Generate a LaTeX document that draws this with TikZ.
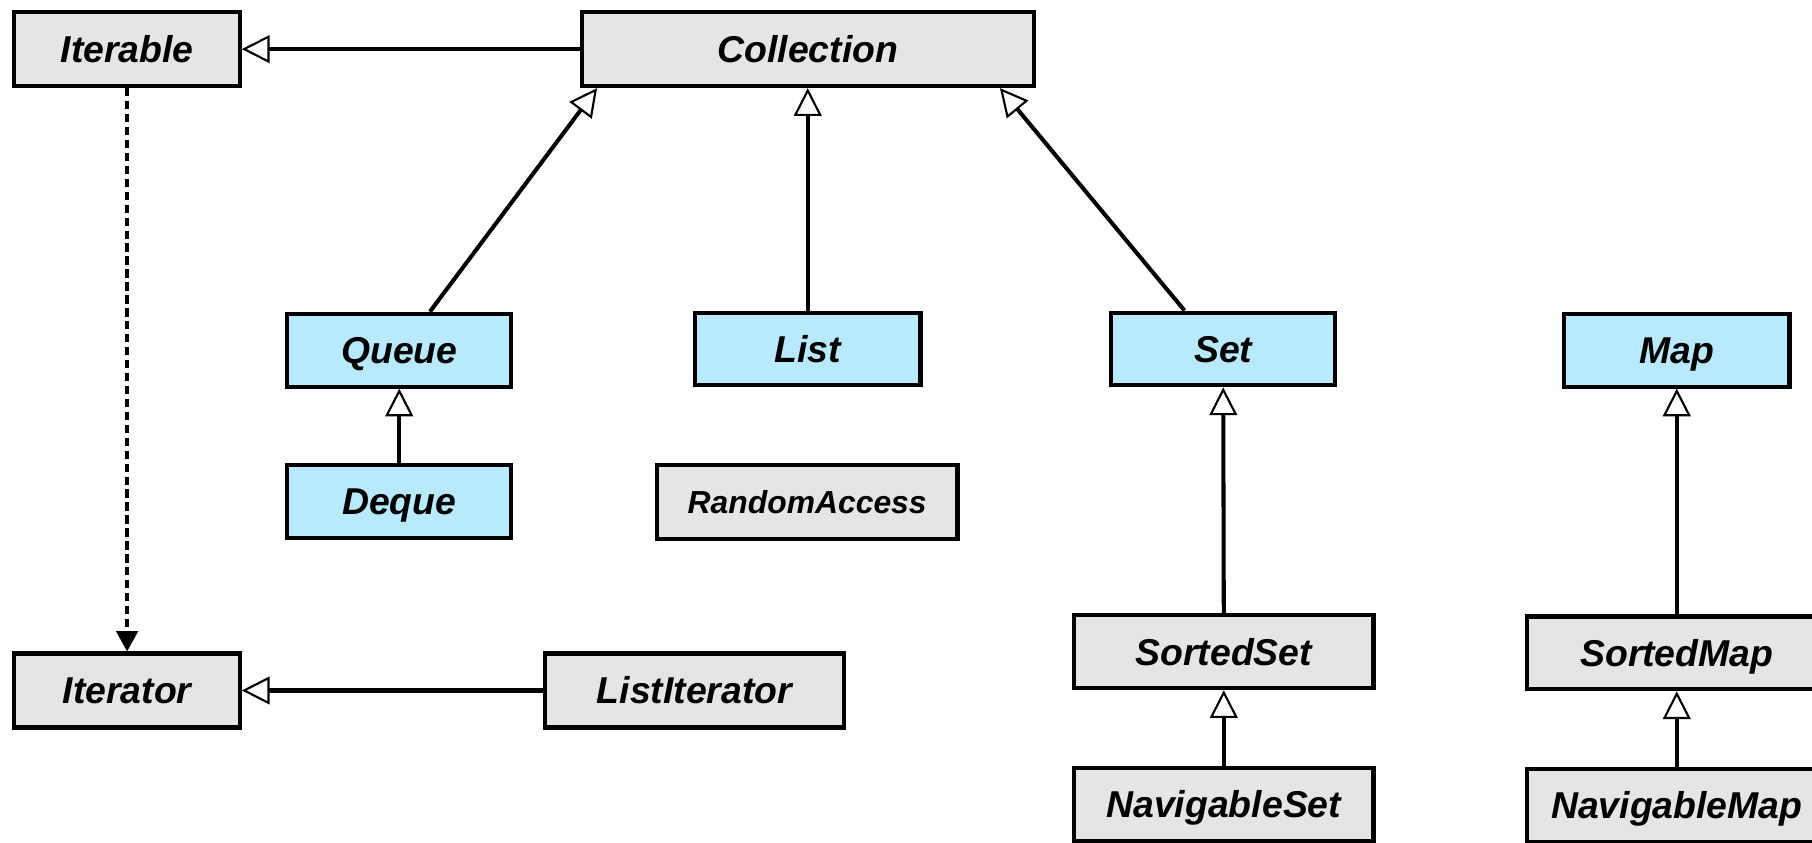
\documentclass[tikz,border=0pt]{standalone}
\usepackage{fontspec}
\setmainfont{Liberation Sans}
\usetikzlibrary{arrows.meta,calc}
\definecolor{boxgray}{HTML}{E5E5E5}
\definecolor{boxblue}{HTML}{B9E9FD}
\tikzset{
  cls/.style={draw=black, line width=2.5pt, rectangle, inner sep=0pt,
    font=\fontsize{23}{27}\selectfont\bfseries\itshape, text=black,
    text height=16.5pt, text depth=0pt},
  graybox/.style={cls, fill=boxgray},
  bluebox/.style={cls, fill=boxblue},
  inherit/.style={line width=2.5pt, -{Triangle[open, length=0.6cm, width=0.6cm, line width=1.3pt, fill=white]}},
  depends/.style={line width=2.5pt, dash pattern=on 0.18cm off 0.1cm, -{Triangle[length=0.44cm, width=0.46cm]}}
}
\begin{document}
\begin{tikzpicture}[x=0.025cm, y=-0.025cm]
\useasboundingbox (0,0) rectangle (1568,729);
\clip (0,0) rectangle (1568,729);
\fill[white] (0,0) rectangle (1568,729);

\node[graybox, minimum width=195cm/40, minimum height=64cm/40] (iterable) at (110,42.5) {Iterable};
\node[graybox, minimum width=391cm/40, minimum height=64cm/40] (coll) at (699,42.5) {Collection};
\node[bluebox, minimum width=194cm/40, minimum height=63cm/40] (queue) at (345.5,303) {Queue};
\node[bluebox, minimum width=195cm/40, minimum height=63cm/40] (list) at (699,302) {List};
\node[bluebox, minimum width=194cm/40, minimum height=63cm/40] (set) at (1058.5,302) {Set};
\node[bluebox, minimum width=195cm/40, minimum height=63cm/40] (map) at (1451,303) {Map};
\node[bluebox, minimum width=194cm/40, minimum height=63cm/40] (deque) at (345.5,434) {Deque};
\node[graybox, minimum width=260cm/40, minimum height=64cm/40, font=\fontsize{19.6}{23}\selectfont\bfseries\itshape, text height=14pt] (ra) at (698.5,434.5) {RandomAccess};
\node[graybox, minimum width=195cm/40, minimum height=64cm/40] (iterator) at (110,597.5) {Iterator};
\node[graybox, minimum width=259cm/40, minimum height=64cm/40] (listit) at (601,597.5) {ListIterator};
\node[graybox, minimum width=259cm/40, minimum height=63cm/40] (sortedset) at (1059,564) {SortedSet};
\node[graybox, minimum width=259cm/40, minimum height=63cm/40] (navset) at (1059,696) {NavigableSet};
\node[graybox, minimum width=259cm/40, minimum height=63cm/40] (sortedmap) at (1451,565) {SortedMap};
\node[graybox, minimum width=259cm/40, minimum height=63cm/40] (navmap) at (1451,697) {NavigableMap};

\draw[inherit] (coll.west) -- (iterable.east);
\draw[depends] (iterable.south) -- (iterator.north);
\draw[inherit] (listit.west) -- (iterator.east);
\draw[inherit] ($(queue.north)+(26.5,0)$) -- ($(coll.south west)+(15,0)$);
\draw[inherit] (list.north) -- (coll.south);
\draw[inherit] ($(set.north)+(-33.5,0)$) -- ($(coll.south east)+(-31,0)$);
\draw[inherit] (deque.north) -- (queue.south);
\draw[inherit] (sortedset.north) -- (set.south);
\draw[inherit] (navset.north) -- (sortedset.south);
\draw[inherit] (sortedmap.north) -- (map.south);
\draw[inherit] (navmap.north) -- (sortedmap.south);
\end{tikzpicture}
\end{document}
